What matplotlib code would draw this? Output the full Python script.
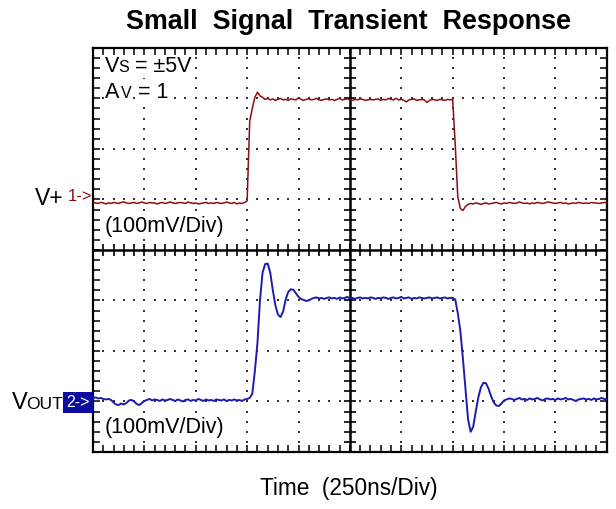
import numpy as np
import matplotlib.pyplot as plt

plt.rcParams["font.family"] = ["Liberation Sans", "DejaVu Sans"]

# sample times in divisions (250 ns/div), one sample every 0.05 div
t = np.round(np.arange(0, 10.001, 0.05), 2)

# channel 1 (V+), in divisions from screen centre
v_in = [
    0.94, 0.93, 0.92, 0.94, 0.93, 0.91, 0.93, 0.92, 0.94, 0.93,
    0.92, 0.94, 0.95, 0.93, 0.92, 0.93, 0.94, 0.92, 0.93, 0.95,
    0.93, 0.92, 0.94, 0.93, 0.93, 0.91, 0.93, 0.94, 0.92, 0.93,
    0.95, 0.93, 0.92, 0.93, 0.94, 0.93, 0.92, 0.95, 0.93, 0.92,
    0.93, 0.91, 0.92, 0.93, 0.94, 0.92, 0.93, 0.92, 0.94, 0.93,
    0.92, 0.93, 0.95, 0.93, 0.92, 0.94, 0.91, 0.93, 0.92, 0.94,
    0.97, 2.55, 2.80, 3.02, 3.12, 3.05, 3.02, 2.98, 3.00,
    2.97, 2.99, 2.96, 2.98, 3.00, 2.97, 2.98, 2.96, 2.99, 2.98,
    2.97, 3.01, 2.98, 2.96, 2.98, 2.99, 2.97, 2.98, 3.00, 2.97,
    2.96, 2.98, 2.99, 2.97, 2.98, 2.96, 2.98, 3.00, 2.97, 2.98,
    2.99, 2.97, 2.96, 2.98, 2.97, 2.99, 2.98, 2.96, 2.97, 2.98,
    2.97, 2.98, 2.99, 2.96, 2.98, 2.97, 3.00, 2.98, 2.97,
    3.00, 2.97, 2.98, 2.96, 2.93, 2.97, 2.98, 2.99, 2.96, 2.97,
    2.98, 2.97, 2.92, 2.96, 2.98, 2.97, 2.96, 2.98, 2.97, 2.96,
    2.98, 2.97,
    2.98, 2.10, 1.05, 0.82, 0.78, 0.86, 0.90,
    0.92, 0.91, 0.93, 0.92, 0.90, 0.92, 0.93, 0.91, 0.92, 0.93,
    0.94, 0.92, 0.91, 0.93, 0.92, 0.94, 0.93, 0.92, 0.93, 0.95,
    0.93, 0.92, 0.93, 0.91, 0.93, 0.92, 0.94, 0.93, 0.92, 0.93,
    0.95, 0.94, 0.93, 0.92, 0.93, 0.94, 0.92, 0.93, 0.91, 0.92,
    0.93, 0.92, 0.94, 0.93, 0.92, 0.93, 0.92, 0.94, 0.93, 0.93,
    0.92, 0.93, 0.94, 0.93,
]

# channel 2 (VOUT), in divisions from screen centre
v_out = [
    -2.93, -2.92, -2.94, -2.93, -2.95, -2.96, -2.95, -2.97, -3.02, -3.06,
    -3.07, -3.04, -3.06, -3.03, -2.98, -2.97, -3.00, -3.05, -3.07, -3.03,
    -2.99, -2.97, -2.95, -2.98, -2.96, -2.97, -2.99, -2.96, -2.98, -2.97,
    -2.95, -2.97, -2.99, -2.96, -2.98, -3.00, -2.97, -2.96, -2.99, -2.97,
    -2.98, -2.95, -2.97, -2.99, -2.96, -2.98, -2.97, -2.99, -2.96, -2.97,
    -2.98, -2.96, -2.99, -2.97, -2.98, -2.96, -2.98, -2.97, -2.99, -2.96,
    -2.95, -2.93, -2.85, -2.40, -1.85, -1.00, -0.45, -0.28, -0.27, -0.45,
    -0.80, -1.10, -1.28, -1.33, -1.22, -0.98, -0.83, -0.78, -0.79, -0.86,
    -0.93, -0.97, -0.99, -1.01, -1.00, -0.97, -0.95,
    -0.94, -0.96, -0.95, -0.97, -0.95, -0.94, -0.96, -0.95, -0.97, -0.94,
    -0.96, -0.95, -0.93, -0.96, -0.95, -0.97, -0.95, -0.94, -0.96, -0.95,
    -0.96, -0.94, -0.95, -0.97, -0.95, -0.96, -0.94, -0.95, -0.97, -0.95,
    -0.94, -0.96, -0.95, -0.93, -0.96, -0.95, -0.94, -0.97, -0.95, -0.96,
    -0.94, -0.95, -0.96, -0.95, -0.94, -0.96, -0.95, -0.94, -0.96, -0.95,
    -0.94, -0.96, -0.95,
    -0.95, -0.98, -1.25, -1.60, -2.15, -2.75, -3.35, -3.60, -3.50, -3.20,
    -2.92, -2.72, -2.63, -2.64, -2.75, -2.90, -3.02, -3.08, -3.09, -3.04,
    -2.98,
    -2.96, -2.94, -2.95, -2.97, -2.95, -2.93, -2.96, -2.95, -2.97, -2.94,
    -2.96, -2.95, -2.93, -2.96, -2.98, -2.95, -2.94, -2.96, -2.95, -2.97,
    -2.94, -2.96, -2.95, -2.93, -2.96, -2.95, -2.97, -2.99, -2.96, -2.95,
    -2.94, -2.96, -2.95, -2.97, -2.94, -2.96, -2.95, -2.93, -2.95, -2.96,
]

red = "#8c0f0f"
blue = "#1c1cb0"

fig = plt.figure(figsize=(6.16, 5.09), dpi=100)
ax = fig.add_axes([0.151, 0.112, 0.834, 0.794])
ax.set_xlim(0, 10)
ax.set_ylim(-4, 4)

# dotted graticule
minor_x = np.round(np.arange(0, 10.001, 0.2), 2)
minor_y = np.round(np.arange(-4, 4.001, 0.2), 2)
for gx in [1, 2, 3, 4, 6, 7, 8, 9]:
    ax.scatter(np.full(len(minor_y), gx), minor_y, s=1.2, marker="s",
               color="#333333", linewidths=0, zorder=1)
for gy in [-3, -2, -1, 1, 2, 3]:
    ax.scatter(minor_x, np.full(len(minor_x), gy), s=1.2, marker="s",
               color="#333333", linewidths=0, zorder=1)

# centre cross with ticks
ax.axhline(0, color="black", lw=1.8, zorder=2)
ax.axvline(5, color="black", lw=1.8, zorder=2)
ax.plot(np.full(len(minor_y), 5), minor_y, ls="none", marker="_", ms=8,
        mew=1.2, color="black", zorder=2)
ax.plot(minor_x, np.zeros(len(minor_x)), ls="none", marker="|", ms=8,
        mew=1.2, color="black", zorder=2)

# border ticks
ax.set_xticks(minor_x)
ax.set_yticks(minor_y)
ax.tick_params(direction="in", length=5, width=1.1, top=True, right=True,
               labelbottom=False, labelleft=False)
for s in ax.spines.values():
    s.set_linewidth(1.6)

ax.plot(t, v_in, color=red, lw=1.1, zorder=3)
ax.plot(t, v_out, color=blue, lw=1.4, zorder=3)

# annotations inside the screen
fs = 15.5
bg = dict(fc="white", ec="none", pad=0.3)
ax.text(0.23, 3.52, "V", fontsize=fs, va="baseline", bbox=bg, zorder=4)
ax.text(0.50, 3.52, "S", fontsize=11.5, va="baseline", bbox=bg, zorder=4)
ax.text(0.81, 3.52, "= \u00b15V", fontsize=fs, va="baseline", bbox=bg, zorder=4)
ax.text(0.23, 3.01, "A", fontsize=fs, va="baseline", bbox=bg, zorder=4)
ax.text(0.55, 3.01, "V", fontsize=11.5, va="baseline", bbox=bg, zorder=4)
ax.text(0.88, 3.01, "= 1", fontsize=fs, va="baseline", bbox=bg, zorder=4)
ax.text(0.22, 0.46, "(100mV/Div)", fontsize=fs, va="center", bbox=bg, zorder=4)
ax.text(0.22, -3.52, "(100mV/Div)", fontsize=fs, va="center", bbox=bg, zorder=4)

# channel markers left of the screen
ax.text(-0.57, 1.02, "V+", fontsize=16.5, ha="right", va="center",
        clip_on=False)
ax.text(-0.49, 1.05, "1->", fontsize=12, color=red, ha="left", va="center",
        clip_on=False)
ax.text(-1.28, -3.15, "V", fontsize=17, ha="right", va="baseline",
        clip_on=False)
ax.text(-0.58, -3.15, "OUT", fontsize=12.5, ha="right", va="baseline",
        clip_on=False)
ax.text(-0.07, -3.02, "2->", fontsize=11.5, color="white", ha="right",
        va="center", clip_on=False,
        bbox=dict(boxstyle="square,pad=0.2", fc="#0a0aa0", ec="none"))

fig.text(0.565, 0.957, "Small  Signal  Transient  Response", fontsize=19.4,
         fontweight="bold", ha="center", va="center")
fig.text(0.567, 0.041, "Time  (250ns/Div)", fontsize=16.3, ha="center",
         va="center")

fig.savefig("out.png", dpi=100)
